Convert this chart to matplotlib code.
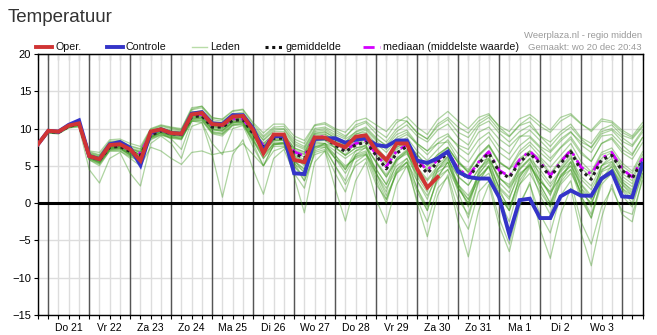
import numpy as np
import matplotlib.pyplot as plt
from matplotlib.lines import Line2D

plt.rcParams['font.family'] = ['Liberation Sans', 'DejaVu Sans']

# 6-hourly steps from wo 20 dec 18:00 to do 4 jan 12:00
day_labels = ["Do 21", "Vr 22", "Za 23", "Zo 24", "Ma 25", "Di 26", "Wo 27",
              "Do 28", "Vr 29", "Za 30", "Zo 31", "Ma 1", "Di 2", "Wo 3"]

oper = [7.9, 9.7, 9.6, 10.4, 10.7, 6.3, 5.9, 7.8, 7.9, 7.2, 5.7, 9.6,
        9.9, 9.4, 9.3, 11.9, 12.1, 10.6, 10.5, 11.6, 11.7, 9.8, 6.7, 9.2,
        9.2, 5.8, 5.5, 8.8, 8.8, 8.0, 7.5, 8.9, 9.1, 7.1, 5.8, 8.0,
        8.0, 4.6, 2.1, 3.5]

controle = [7.9, 9.7, 9.6, 10.5, 11.1, 6.3, 5.9, 7.9, 8.2, 7.4, 5.1, 9.5,
            9.9, 9.4, 9.3, 12.0, 12.2, 10.7, 10.6, 11.8, 11.8, 10.0, 7.1, 9.0,
            9.0, 4.0, 3.9, 8.6, 8.7, 8.7, 8.1, 8.5, 8.7, 7.8, 7.6, 8.4,
            8.4, 5.7, 5.4, 6.0, 6.9, 4.2, 3.5, 3.3, 3.3, 0.8, -4.2, 0.4,
            0.6, -2.0, -2.0, 0.9, 1.7, 1.0, 1.0, 3.3, 4.2, 0.9, 0.8, 5.3]

gemiddelde = [7.9, 9.6, 9.5, 10.3, 10.6, 6.3, 5.8, 7.5, 7.6, 6.9, 6.4, 9.1,
              9.7, 9.3, 9.2, 11.6, 11.7, 10.2, 10.2, 11.1, 11.2, 9.3, 7.5, 8.7,
              8.7, 6.7, 6.0, 8.7, 8.7, 7.8, 6.9, 7.8, 8.2, 6.4, 4.6, 6.7,
              7.6, 5.5, 4.0, 5.5, 6.7, 4.4, 3.3, 5.3, 6.7, 4.2, 3.4, 5.5,
              6.7, 5.3, 3.5, 5.3, 6.9, 4.4, 3.2, 5.8, 6.4, 4.4, 3.3, 5.8]

mediaan = [7.9, 9.6, 9.5, 10.4, 10.7, 6.3, 5.9, 7.7, 7.8, 7.1, 6.7, 9.3,
           9.8, 9.4, 9.3, 11.8, 11.9, 10.4, 10.4, 11.3, 11.3, 9.5, 7.7, 8.9,
           8.9, 6.9, 6.3, 8.9, 8.9, 8.0, 7.1, 8.0, 8.4, 6.6, 4.9, 7.0,
           7.8, 5.8, 4.4, 5.8, 6.9, 4.6, 3.6, 5.5, 6.9, 4.4, 3.6, 5.8,
           7.0, 5.5, 3.7, 5.5, 7.1, 4.8, 3.9, 6.0, 6.8, 4.6, 3.5, 6.0]

leden = [
    [8.0, 9.8, 9.7, 10.6, 11.0, 7.0, 6.8, 8.5, 8.6, 8.0, 7.6, 10.0, 10.5, 10.2, 10.0, 12.8, 13.0, 11.5, 11.2, 12.3,
     12.5, 10.6, 9.0, 10.2, 10.3, 8.6, 8.0, 10.4, 10.6, 9.8, 9.0, 10.2, 10.8, 9.3, 8.2, 10.0, 11.0, 9.4, 8.6, 10.3,
     11.2, 9.5, 8.8, 10.6, 11.5, 9.8, 8.9, 10.4, 10.9, 9.0, 8.2, 9.6, 10.6, 8.8, 8.0, 9.9, 10.5, 9.1, 8.6, 10.2],
    [7.9, 9.7, 9.6, 10.4, 10.8, 6.6, 6.1, 7.9, 8.0, 7.3, 6.9, 9.5, 10.1, 9.6, 9.5, 12.0, 12.2, 10.7, 10.6, 11.6,
     11.7, 9.8, 8.0, 9.3, 9.3, 7.4, 6.8, 9.4, 9.6, 8.7, 7.8, 8.9, 9.3, 7.6, 6.0, 7.9, 8.8, 7.0, 5.7, 7.2,
     8.5, 6.6, 5.5, 7.6, 8.9, 6.8, 5.8, 7.7, 8.8, 7.4, 6.0, 7.5, 8.9, 6.9, 5.6, 8.0, 8.6, 6.8, 5.9, 8.1],
    [7.8, 9.4, 9.3, 10.1, 10.2, 4.5, 2.7, 6.0, 6.8, 4.0, 2.3, 8.0, 9.0, 8.0, 6.0, 10.3, 10.8, 8.0, 6.5, 10.0,
     10.4, 7.5, 5.0, 7.8, 8.0, 5.0, 3.5, 7.5, 8.0, 6.0, 4.5, 7.0, 7.8, 4.0, 1.5, 5.6, 7.0, 3.0, 0.5, 4.5,
     6.3, 2.0, 0.0, 4.2, 6.5, 2.8, 1.4, 5.0, 6.8, 3.5, 1.0, 4.8, 6.5, 2.5, 0.6, 5.0, 6.0, 3.0, 1.5, 5.2],
    [7.9, 9.5, 9.4, 10.2, 10.5, 6.0, 5.4, 7.3, 7.4, 6.4, 5.8, 8.8, 9.4, 8.6, 7.2, 11.0, 10.8, 6.5, 0.8, 6.5,
     8.5, 4.5, 1.2, 6.0, 7.2, 4.0, 2.0, 7.0, 7.5, 5.0, 3.0, 6.5, 7.5, 4.5, 2.5, 6.0, 7.2, 3.5, 1.5, 5.3,
     6.2, 2.5, -0.5, 3.8, 5.8, 2.0, 0.5, 4.5, 6.0, 3.0, 1.5, 4.5, 6.2, 2.0, -0.5, 4.3, 5.5, 2.8, 1.8, 5.0],
    [7.9, 9.6, 9.5, 10.3, 10.6, 6.2, 5.6, 7.4, 7.5, 6.7, 6.1, 8.9, 9.5, 9.0, 8.6, 11.2, 11.3, 9.6, 9.4, 10.7,
     10.8, 8.0, 5.0, 7.8, 8.2, 3.5, -1.3, 5.5, 7.0, 4.0, 1.5, 5.5, 6.5, 3.0, 0.0, 4.5, 6.0, 2.0, -1.0, 3.5,
     5.5, 1.5, -2.0, 2.8, 5.0, 0.5, -2.5, 2.5, 4.8, 1.0, -1.5, 3.0, 5.5, 1.0, -2.0, 3.2, 5.0, 1.8, 0.0, 4.0],
    [7.9, 9.6, 9.4, 10.3, 10.5, 6.2, 5.7, 7.4, 7.6, 6.8, 6.2, 9.0, 9.6, 9.1, 9.0, 11.5, 11.6, 10.0, 9.8, 10.9,
     11.0, 9.0, 7.0, 8.4, 8.4, 6.2, 5.0, 8.2, 8.0, 6.5, 4.5, 6.5, 7.0, 4.0, 1.0, 4.0, 5.0, 0.5, -2.5, 2.0,
     3.5, -2.5, -7.2, -1.0, 2.5, -3.0, -6.5, -0.5, 2.8, -3.5, -7.4, -1.5, 2.0, -4.0, -8.4, -2.0, 2.5, -1.5, -2.5, 3.5],
    [7.8, 9.5, 9.4, 10.2, 10.4, 6.0, 5.4, 7.2, 7.3, 6.5, 5.9, 8.7, 9.2, 8.8, 8.7, 11.0, 11.1, 9.5, 9.3, 10.5,
     10.7, 8.6, 6.5, 8.0, 8.0, 5.6, 4.5, 7.8, 7.8, 6.0, 4.0, 6.3, 6.8, 3.5, 0.5, 4.2, 5.5, 0.0, -4.5, 1.0,
     3.8, -1.0, -3.5, 1.5, 3.0, -2.0, -5.5, 0.0, 2.5, -1.5, -4.0, 1.0, 3.0, -2.5, -5.5, -0.5, 2.0, -1.0, -1.5, 3.0],
    [7.9, 9.6, 9.5, 10.3, 10.7, 6.3, 5.8, 7.6, 7.7, 7.0, 6.5, 9.2, 9.8, 9.4, 9.2, 11.7, 11.8, 10.3, 10.1, 11.2,
     11.3, 9.2, 7.0, 8.5, 8.5, 5.5, 3.0, 6.5, 7.0, 2.0, -2.4, 3.0, 5.5, 0.5, -2.7, 2.5, 5.0, 1.5, -1.0, 3.5,
     5.5, 2.5, 0.5, 4.0, 5.5, 2.0, -1.0, 3.5, 5.2, 2.5, 0.0, 3.8, 5.0, 1.0, -1.5, 3.0, 4.5, 2.0, 0.5, 4.5],
    [7.9, 9.7, 9.6, 10.5, 10.9, 6.8, 6.4, 8.2, 8.3, 7.6, 7.2, 9.8, 10.3, 10.0, 9.8, 12.5, 12.8, 11.2, 11.0, 12.0,
     12.2, 10.3, 8.8, 10.0, 10.0, 8.3, 7.6, 10.0, 10.2, 9.5, 8.8, 10.5, 11.0, 9.8, 8.8, 10.8, 11.6, 10.2, 9.2, 11.2,
     12.3, 11.0, 10.0, 11.5, 12.0, 10.2, 9.0, 10.5, 11.5, 10.3, 9.5, 11.0, 11.8, 10.6, 9.8, 11.3, 11.0, 9.8, 9.0, 10.8],
    [7.9, 9.5, 9.4, 10.2, 10.5, 6.1, 5.5, 7.2, 7.3, 6.5, 6.0, 8.8, 9.4, 9.0, 8.9, 11.3, 11.4, 9.8, 9.7, 10.8,
     10.8, 8.8, 7.0, 8.2, 8.1, 6.0, 5.2, 8.0, 8.0, 7.0, 6.0, 7.0, 7.4, 5.5, 3.5, 5.8, 6.6, 4.5, 3.0, 4.6,
     5.8, 3.5, 2.4, 4.5, 5.8, 3.3, 2.5, 4.7, 6.0, 4.5, 2.6, 4.4, 6.0, 3.6, 2.3, 5.0, 5.6, 3.6, 2.6, 5.2],
    [8.0, 9.7, 9.6, 10.4, 10.7, 6.5, 6.0, 7.8, 7.9, 7.2, 6.8, 9.4, 10.0, 9.6, 9.5, 12.2, 12.4, 10.8, 10.7, 11.8,
     11.9, 10.0, 8.4, 9.6, 9.6, 7.8, 7.2, 9.6, 9.8, 9.0, 8.2, 9.3, 9.5, 8.0, 6.8, 8.5, 9.2, 8.0, 7.0, 8.0,
     9.0, 7.8, 7.2, 9.5, 10.2, 8.6, 7.6, 9.0, 9.0, 7.6, 6.8, 8.3, 9.5, 8.2, 7.5, 9.6, 10.0, 8.8, 7.8, 9.8],
    [7.8, 9.4, 9.3, 10.1, 10.3, 5.8, 5.2, 7.0, 7.0, 6.2, 5.6, 8.5, 9.1, 8.7, 8.5, 11.0, 11.0, 9.3, 9.0, 10.4,
     10.5, 8.3, 6.0, 7.6, 7.6, 5.3, 4.2, 7.5, 7.5, 6.0, 4.8, 6.2, 6.6, 4.6, 2.5, 5.0, 6.0, 3.8, 2.0, 4.2,
     5.0, 2.5, 1.0, 3.5, 5.0, 2.2, 0.8, 3.8, 5.2, 3.0, 1.2, 3.6, 5.0, 2.6, 1.0, 4.2, 4.8, 2.6, 1.3, 4.6],
    [7.9, 9.5, 9.4, 10.2, 10.4, 5.8, 5.0, 7.0, 7.0, 6.0, 5.0, 7.5, 7.0, 6.0, 5.2, 6.8, 7.0, 6.5, 6.8, 7.0,
     8.0, 6.5, 5.0, 7.0, 7.5, 5.8, 4.0, 7.2, 8.0, 7.5, 6.5, 8.0, 8.5, 7.0, 5.5, 7.5, 8.0, 6.5, 5.0, 6.5,
     7.5, 5.5, 4.5, 6.5, 7.8, 5.5, 4.5, 6.0, 7.0, 6.0, 4.0, 5.8, 7.2, 5.0, 4.0, 6.5, 7.0, 5.0, 4.0, 6.5],
    [7.9, 9.6, 9.5, 10.4, 10.7, 6.5, 6.1, 7.7, 7.8, 7.1, 6.6, 9.3, 9.9, 9.5, 9.4, 11.9, 12.0, 10.5, 10.5, 11.4,
     11.5, 9.6, 7.8, 9.0, 9.0, 7.0, 6.5, 9.2, 9.3, 8.4, 7.6, 8.6, 9.0, 7.2, 5.5, 7.5, 8.3, 6.5, 5.0, 6.5,
     7.5, 5.5, 4.2, 6.3, 7.6, 5.4, 4.6, 6.6, 7.8, 6.2, 4.8, 6.4, 8.0, 5.6, 4.2, 6.8, 7.4, 5.4, 4.3, 6.9],
    [7.9, 9.6, 9.5, 10.3, 10.6, 6.3, 5.9, 7.5, 7.6, 6.9, 6.4, 9.1, 9.7, 9.3, 9.1, 11.6, 11.7, 10.2, 10.1, 11.1,
     11.2, 9.3, 7.4, 8.7, 8.7, 6.6, 5.8, 8.7, 8.8, 8.0, 7.0, 7.8, 8.2, 6.5, 4.8, 6.8, 7.8, 5.8, 4.4, 5.8,
     7.0, 4.8, 3.6, 5.6, 7.0, 4.5, 3.5, 5.8, 7.0, 5.6, 3.8, 5.6, 7.2, 4.7, 3.5, 6.0, 6.8, 4.6, 3.5, 6.0],
    [8.0, 9.7, 9.7, 10.5, 10.8, 6.7, 6.3, 8.0, 8.1, 7.4, 7.0, 9.6, 10.1, 9.8, 9.7, 12.2, 12.3, 10.9, 10.8, 11.8,
     11.9, 10.1, 8.5, 9.8, 9.9, 8.0, 7.4, 9.8, 10.0, 9.2, 8.6, 9.5, 10.0, 8.6, 7.8, 9.6, 10.5, 9.0, 8.2, 9.8,
     10.6, 8.8, 7.8, 10.3, 11.0, 9.4, 8.2, 9.6, 10.4, 9.0, 7.6, 9.2, 10.2, 8.6, 7.4, 9.3, 9.8, 8.3, 7.6, 9.5],
    [7.9, 9.5, 9.4, 10.2, 10.5, 6.1, 5.6, 7.4, 7.5, 6.6, 6.0, 8.9, 9.5, 9.1, 9.0, 11.4, 11.5, 9.9, 9.6, 10.8,
     10.9, 8.5, 6.0, 8.0, 8.0, 5.0, 3.0, 6.8, 7.2, 5.0, 2.5, 5.0, 6.0, 2.5, 0.5, 4.0, 5.5, 2.0, -0.5, 3.0,
     4.5, 0.5, -1.5, 3.0, 5.0, 1.0, -1.0, 3.5, 5.5, 2.0, -0.5, 3.5, 5.5, 2.0, 0.5, 5.0, 6.5, 4.0, 3.0, 6.0],
    [7.9, 9.6, 9.5, 10.4, 10.7, 6.4, 6.0, 7.6, 7.7, 7.0, 6.5, 9.2, 9.8, 9.4, 9.3, 11.8, 11.9, 10.4, 10.3, 11.3,
     11.4, 9.5, 7.7, 8.9, 9.0, 7.2, 6.6, 9.0, 9.2, 8.5, 7.8, 9.2, 9.8, 8.4, 7.2, 8.8, 9.5, 7.8, 6.5, 8.0,
     8.2, 5.8, 4.0, 5.5, 6.0, 3.5, 2.0, 4.0, 5.0, 3.0, 1.5, 3.5, 4.5, 1.5, 0.0, 3.0, 4.0, 2.0, 1.0, 4.5],
    [7.9, 9.6, 9.5, 10.3, 10.6, 6.2, 5.7, 7.5, 7.6, 6.8, 6.3, 9.0, 9.6, 9.2, 9.1, 11.5, 11.6, 10.1, 10.0, 11.0,
     11.1, 9.1, 7.2, 8.6, 8.6, 6.4, 5.6, 8.4, 8.5, 7.5, 6.4, 7.4, 7.8, 5.4, 3.5, 5.8, 6.8, 4.0, 2.0, 4.5,
     5.5, 2.0, 0.0, 3.5, 4.8, 1.5, -0.5, 3.0, 5.0, 2.5, 0.0, 2.8, 4.5, 0.5, -2.0, 2.5, 4.0, 1.0, -0.5, 4.0],
    [7.9, 9.7, 9.6, 10.4, 10.8, 6.6, 6.2, 7.9, 8.0, 7.3, 6.8, 9.4, 10.0, 9.6, 9.5, 12.0, 12.1, 10.6, 10.5, 11.5,
     11.6, 9.7, 8.0, 9.2, 9.2, 7.4, 6.9, 9.3, 9.5, 8.8, 8.2, 9.6, 10.2, 8.8, 7.6, 9.2, 9.8, 8.0, 7.0, 8.6,
     9.3, 7.5, 6.5, 8.5, 9.5, 7.6, 6.6, 8.8, 9.8, 8.4, 7.0, 8.6, 9.6, 7.8, 6.8, 9.0, 9.2, 7.8, 6.6, 8.8],
    [7.9, 9.7, 9.6, 10.5, 10.9, 6.9, 6.5, 8.3, 8.4, 7.7, 7.3, 9.9, 10.4, 10.1, 9.9, 12.6, 13.0, 11.4, 11.3, 12.4,
     12.6, 10.8, 9.4, 10.6, 10.6, 9.0, 8.4, 10.5, 10.8, 10.0, 9.5, 11.0, 11.4, 10.5, 9.6, 11.2, 11.0, 9.5, 8.6, 10.6,
     11.5, 10.2, 9.4, 11.0, 11.8, 10.4, 9.6, 11.3, 11.9, 10.8, 9.8, 11.5, 12.0, 10.7, 9.6, 11.0, 10.8, 9.5, 8.8, 10.4],
    [7.8, 9.5, 9.4, 10.2, 10.4, 5.9, 5.3, 7.1, 7.2, 6.3, 5.7, 8.6, 9.2, 8.8, 8.6, 11.1, 11.2, 9.4, 9.2, 10.5,
     10.6, 8.4, 6.4, 7.9, 7.8, 5.7, 4.6, 7.6, 7.7, 6.4, 5.0, 6.0, 6.5, 4.0, 2.0, 4.5, 5.5, 3.0, 1.0, 3.5,
     4.5, 2.0, 0.5, 3.0, 4.0, 1.0, -1.0, 2.5, 4.0, 1.5, -0.5, 2.5, 4.0, 1.5, 0.0, 3.5, 4.5, 2.5, 1.0, 5.0],
    [7.9, 9.6, 9.5, 10.3, 10.6, 6.4, 5.9, 7.6, 7.7, 7.0, 6.5, 9.2, 9.7, 9.3, 9.2, 11.7, 11.8, 10.3, 10.2, 11.2,
     11.3, 9.4, 7.6, 8.8, 8.8, 6.8, 6.2, 8.8, 8.9, 8.2, 7.4, 8.2, 8.6, 6.8, 5.2, 7.2, 8.0, 6.0, 4.6, 6.2,
     7.4, 5.4, 4.2, 6.4, 7.8, 5.6, 4.6, 7.0, 8.2, 6.8, 5.6, 7.4, 8.6, 6.6, 5.6, 8.0, 8.8, 7.2, 6.4, 8.8],
    [7.9, 9.5, 9.4, 10.2, 10.5, 6.0, 5.5, 7.3, 7.4, 6.6, 6.0, 8.8, 9.4, 8.9, 8.8, 11.3, 11.4, 9.9, 9.8, 10.9,
     11.0, 9.0, 7.1, 8.4, 8.4, 6.3, 5.5, 8.3, 8.4, 7.4, 6.4, 7.4, 7.6, 5.6, 3.8, 6.0, 7.0, 4.8, 3.2, 5.0,
     6.0, 3.6, 2.4, 4.6, 6.0, 3.4, 2.2, 4.5, 5.8, 4.0, 2.2, 4.2, 5.6, 3.2, 1.8, 4.5, 5.2, 3.2, 2.2, 5.0],
]

RED = '#d03434'
BLUE = '#3434c8'
GREEN = '#3f9a1f'
MAGENTA = '#d400ff'

fig = plt.figure(figsize=(6.57, 3.35), dpi=100)
ax = fig.add_axes([38 / 657, 20 / 335, 604.5 / 657, 261 / 335])

n = len(gemiddelde)
t = np.arange(n)

# day separators at midnight, light grid every 6 hours
for d in range(1, n, 4):
    ax.axvline(d, color='#555555', lw=1.0, zorder=1)
ax.set_xticks(t)
ax.set_xticklabels([day_labels[(i - 3) // 4] if (i - 3) % 4 == 0 and (i - 3) // 4 < len(day_labels) else ''
                    for i in t], fontsize=7.5)
ax.set_yticks(np.arange(-15, 21, 5))
ax.tick_params(axis='y', labelsize=8, length=3, width=0.8, pad=2)
ax.tick_params(axis='x', length=3, width=0.8, pad=3)
ax.grid(True, color='#dddddd', lw=1.0, zorder=0)
ax.set_axisbelow(True)

top = ax.secondary_xaxis('top')
top.set_xticks(t)
top.set_xticklabels([])
top.tick_params(direction='in', length=4, width=0.8)

ax.axhline(0, color='black', lw=2.2, zorder=2)

for m in leden:
    ax.plot(t, m, color=GREEN, lw=0.9, alpha=0.42, zorder=3)

ax.plot(t, mediaan, color=MAGENTA, lw=2.0, linestyle=(0, (4, 2, 1, 2)), zorder=4)
ax.plot(t, gemiddelde, color='#222222', lw=2.2, linestyle=(0, (1, 1.2)), zorder=5)
ax.plot(t, controle, color=BLUE, lw=2.8, zorder=6, solid_joinstyle='miter')
ax.plot(np.arange(len(oper)), oper, color=RED, lw=2.8, zorder=7, solid_joinstyle='miter')

ax.set_xlim(0, n - 1)
ax.set_ylim(-15, 20)
for s in ax.spines.values():
    s.set_color('black')
    s.set_linewidth(1.0)

# header
fig.text(8 / 657, 1 - 18 / 335, 'Temperatuur', fontsize=13.5, color='#333333', va='center', ha='left')
fig.text(642 / 657, 1 - 36 / 335, 'Weerplaza.nl - regio midden', fontsize=6.8, color='#9a9a9a',
         va='center', ha='right')
fig.text(642 / 657, 1 - 47 / 335, 'Gemaakt: wo 20 dec 20:43', fontsize=6.8, color='#9a9a9a',
         va='center', ha='right')

# legend row
legend_items = [
    (36, 52, dict(color=RED, lw=2.8), 'Oper.'),
    (107, 123, dict(color=BLUE, lw=2.8), 'Controle'),
    (192, 207, dict(color='#b8dca8', lw=1.0), 'Leden'),
    (265, 282, dict(color='#111111', lw=2.2, linestyle=(0, (1, 1.2))), 'gemiddelde'),
    (363, 380, dict(color=MAGENTA, lw=2.0, linestyle=(0, (4, 2, 1, 2))), 'mediaan (middelste waarde)'),
]
ly = 1 - 46.5 / 335
for x0, x1, style, label in legend_items:
    fig.add_artist(Line2D([x0 / 657, x1 / 657], [ly, ly], transform=fig.transFigure, **style))
    fig.text((x1 + 3) / 657, ly, label, fontsize=7.7, color='#111111', va='center', ha='left')

fig.savefig('out.png', dpi=100)
